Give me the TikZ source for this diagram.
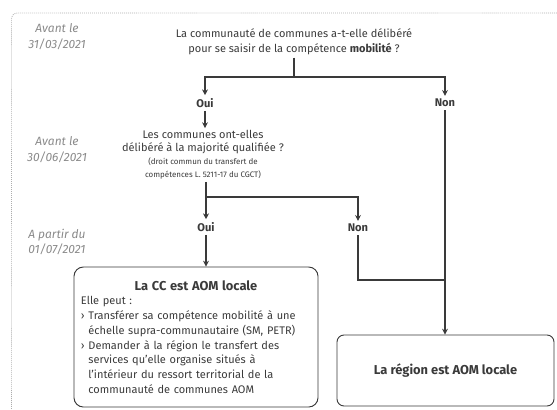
\documentclass[tikz,border=0pt]{standalone}
\usepackage{fontspec}
\setmainfont{Fira Sans}
\usepackage{xcolor}
\usetikzlibrary{arrows.meta}

\definecolor{darkink}{HTML}{3A3A3A}
\definecolor{dateink}{HTML}{8A8A8A}

\begin{document}
\begin{tikzpicture}[
        x=0.03cm, y=-0.03cm,
        every node/.style={text=darkink, font=\fontsize{9.4}{12.6}\selectfont},
        datelabel/.style={align=center, text=dateink, font=\fontsize{10.2}{13.5}\selectfont\itshape},
        question/.style={align=center, inner sep=2pt},
        answer/.style={font=\fontsize{9.5}{10}\selectfont\bfseries, inner sep=2.5pt},
        outcome/.style={draw=darkink, line width=0.8pt, rounded corners=8pt},
        flow/.style={-{Stealth[length=5pt, width=5pt]}, line width=1.2pt, darkink},
        link/.style={line width=1.2pt, darkink}
    ]
    \useasboundingbox (0,0) rectangle (557,409);

    % Dotted frame (top and left only)
    \draw[dateink!70, densely dotted, line width=0.7pt, rounded corners=5pt] (557,13) -- (11.5,13) -- (11.5,409);

    % Dates
    \node[datelabel] (date1) at (57,37) {Avant le\\31/03/2021};
    \node[datelabel] (date2) at (57,150) {Avant le\\30/06/2021};
    \node[datelabel] (date3) at (57,242) {A partir du\\01/07/2021};

    % First question and its answers
    \node[question] (q1) at (294,42) {La communauté de communes a-t-elle délibéré\\pour se saisir de la compétence \textbf{mobilité} ?};
    \coordinate (split1) at (294,77);
    \node[answer] (oui1) at (205,103) {Oui};
    \node[answer] (non1) at (445,103) {Non};

    % Second question and its answers
    \node[question, font=\fontsize{9.4}{11}\selectfont] (q2) at (203,155) {Les communes ont-elles\\délibéré à la majorité qualifiée ?\\{\fontsize{6.8}{8}\selectfont (droit commun du transfert de}\\{\fontsize{6.8}{8}\selectfont compétences L. 5211-17 du CGCT)}};
    \coordinate (split2) at (206,197);
    \node[answer] (oui2) at (206,227) {Oui};
    \node[answer] (non2) at (358,228) {Non};
    \coordinate (join) at (445,280);

    % Outcomes
    \node[outcome, minimum width=7.32cm, minimum height=4.2cm, text width=6.9cm, align=left, inner xsep=0.2cm] (cc) at (196,337) {%
        {\centering\fontsize{11}{14}\selectfont\bfseries La CC est AOM locale\par}
        Elle peut :\\
        › Transférer sa compétence mobilité à une\\
        \hphantom{› }échelle supra-communautaire (SM, PETR)\\
        › Demander à la région le transfert des\\
        \hphantom{› }services qu'elle organise situés à\\
        \hphantom{› }l'intérieur du ressort territorial de la\\
        \hphantom{› }communauté de communes AOM};
    \node[outcome, rounded corners=6pt, minimum width=6.51cm, minimum height=2.13cm, font=\fontsize{11}{13}\selectfont\bfseries] (region) at (445.5,370.5) {La région est AOM locale};

    % Connectors
    \draw[link] (q1) -- (split1);
    \draw[flow] (split1) -| (oui1.north);
    \draw[flow] (split1) -| (non1.north);
    \draw[flow] (oui1) -- (oui1 |- q2.north);
    \draw[link] (q2.south -| split2) -- (split2);
    \draw[flow] (split2) -| (oui2.north);
    \draw[flow] (split2) -| (non2.north);
    \draw[flow] (oui2) -- (oui2 |- cc.north);
    \draw[flow] (non1) -- (non1 |- region.north);
    \draw[link] (non2) |- (join);

\end{tikzpicture}
\end{document}
